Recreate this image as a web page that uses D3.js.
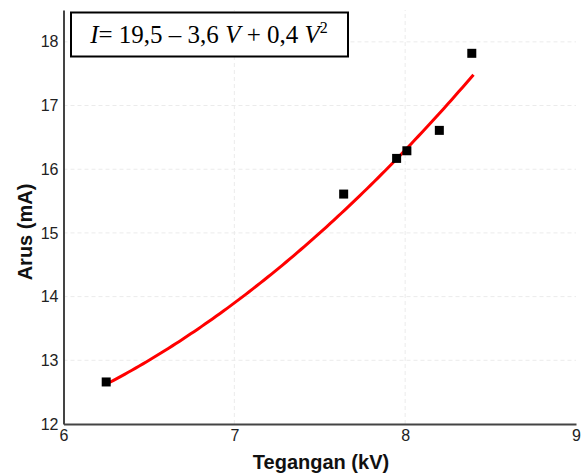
<!DOCTYPE html>
<html>
<head>
<meta charset="utf-8">
<script src="https://cdn.jsdelivr.net/npm/d3@7"></script>
<style>
  html, body { margin: 0; padding: 0; background: #fff; }
  svg { display: block; }
</style>
</head>
<body>
<svg id="chart" width="584" height="473"></svg>
<script>
// Measured voltage (kV) and current (mA)
const voltage = [6.25, 7.64, 7.95, 8.01, 8.20, 8.39];
const current = [12.66, 15.61, 16.17, 16.29, 16.61, 17.82];

// Quadratic fit I = a + b V + c V^2
const fitCoeffs = [19.5, -3.6, 0.4];
const fitRange = [6.25, 8.4];

const xTicks = [6, 7, 8, 9];
const yTicks = [12, 13, 14, 15, 16, 17, 18];

const width = 584, height = 473;
const margin = { left: 63.5, right: 8, top: 10, bottom: 49 };

const svg = d3.select("#chart");

const x = d3.scaleLinear().domain([6, 9]).range([margin.left, width - margin.right]);
const y = d3.scaleLinear().domain([12, 18.5]).range([height - margin.bottom, margin.top]);

// grid
const grid = svg.append("g");
grid.selectAll("line.h").data(yTicks.slice(1)).join("line")
  .attr("x1", x(6)).attr("x2", x(9))
  .attr("y1", d => y(d)).attr("y2", d => y(d))
  .attr("stroke", "#ebebeb").attr("stroke-width", 1).attr("stroke-dasharray", "4,3");
grid.selectAll("line.v").data(xTicks.slice(1, -1)).join("line")
  .attr("x1", d => x(d)).attr("x2", d => x(d))
  .attr("y1", y(12)).attr("y2", y(18.5))
  .attr("stroke", "#ebebeb").attr("stroke-width", 1).attr("stroke-dasharray", "4,3");

// axes
const xAxis = d3.axisBottom(x).tickValues(xTicks).tickSize(0).tickPadding(7).tickFormat(d3.format("d"));
const yAxis = d3.axisLeft(y).tickValues(yTicks).tickSize(0).tickPadding(5).tickFormat(d3.format("d"));

const gx = svg.append("g").attr("transform", `translate(0,${y(12)})`).call(xAxis);
const gy = svg.append("g").attr("transform", `translate(${x(6)},0)`).call(yAxis);

[gx, gy].forEach(g => {
  g.select(".domain").attr("stroke", "#444").attr("stroke-width", 2);
  g.selectAll("text").attr("font-family", "Liberation Sans, Arial, sans-serif")
    .attr("font-size", 16).attr("fill", "#222");
});
gx.selectAll("text").attr("dy", "0.6em");

// axis titles
svg.append("text")
  .attr("x", 321).attr("y", 469)
  .attr("text-anchor", "middle")
  .attr("font-family", "Liberation Sans, Arial, sans-serif")
  .attr("font-weight", "bold").attr("font-size", 20).attr("fill", "#111")
  .text("Tegangan (kV)");

svg.append("text")
  .attr("transform", "translate(32,232) rotate(-90)")
  .attr("text-anchor", "middle")
  .attr("font-family", "Liberation Sans, Arial, sans-serif")
  .attr("font-weight", "bold").attr("font-size", 20).attr("fill", "#111")
  .text("Arus (mA)");

// fitted curve
const fit = v => fitCoeffs[0] + fitCoeffs[1] * v + fitCoeffs[2] * v * v;
const curvePts = d3.range(0, 101).map(i => {
  const v = fitRange[0] + (fitRange[1] - fitRange[0]) * i / 100;
  return [v, fit(v)];
});
svg.append("path")
  .datum(curvePts)
  .attr("fill", "none").attr("stroke", "#ff0000").attr("stroke-width", 3)
  .attr("d", d3.line().x(d => x(d[0])).y(d => y(d[1])));

// data points
const sq = 9;
svg.selectAll("rect.pt").data(voltage).join("rect")
  .attr("class", "pt")
  .attr("x", (d) => x(d) - sq / 2)
  .attr("y", (d, i) => y(current[i]) - sq / 2)
  .attr("width", sq).attr("height", sq)
  .attr("fill", "#000");

// equation box
const box = svg.append("g");
box.append("rect")
  .attr("x", 71).attr("y", 12.5).attr("width", 277).attr("height", 44)
  .attr("fill", "#fff").attr("stroke", "#000").attr("stroke-width", 2);
const eq = box.append("text")
  .attr("x", 209).attr("y", 43)
  .attr("text-anchor", "middle")
  .attr("font-family", "Liberation Serif, Times New Roman, serif")
  .attr("font-size", 25).attr("fill", "#000");
eq.append("tspan").attr("font-style", "italic").text("I");
eq.append("tspan").text("= 19,5 – 3,6 ");
eq.append("tspan").attr("font-style", "italic").text("V");
eq.append("tspan").text(" + 0,4 ");
eq.append("tspan").attr("font-style", "italic").text("V");
eq.append("tspan").attr("font-size", 16).attr("dy", -10).text("2");
</script>
</body>
</html>
